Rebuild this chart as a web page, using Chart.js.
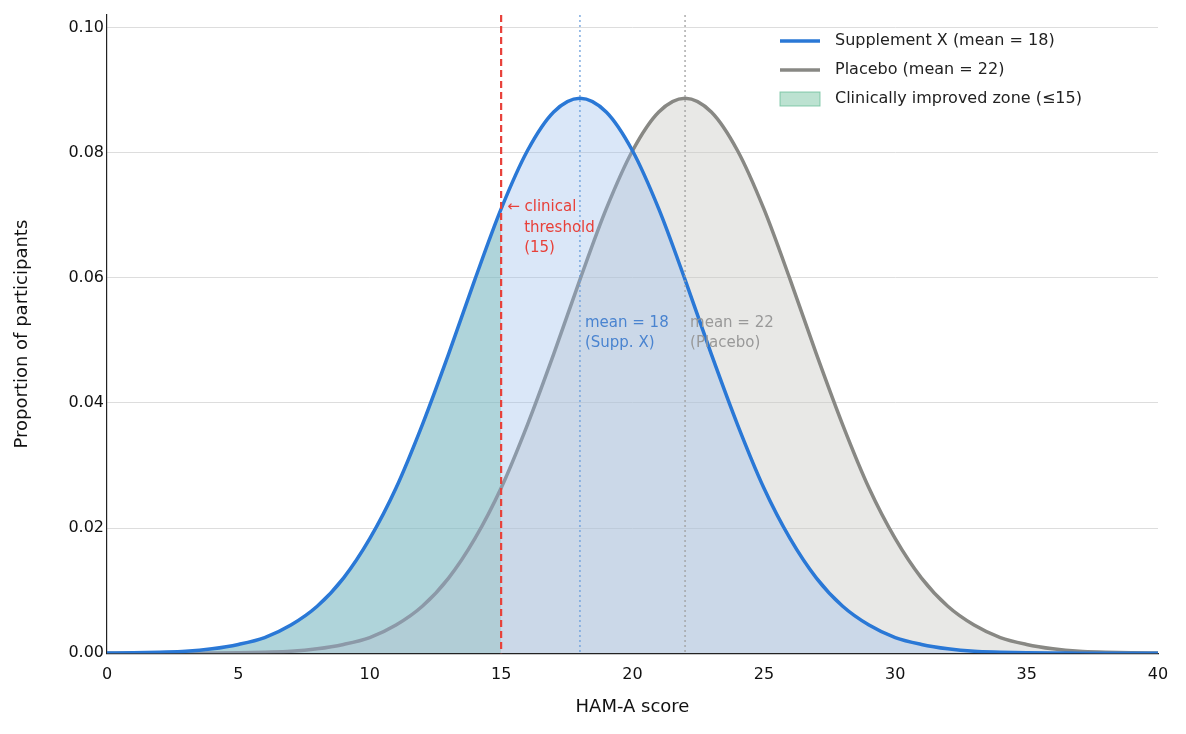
<!DOCTYPE html>
<html>
<head>
<meta charset="utf-8">
<script src="https://cdn.jsdelivr.net/npm/chart.js@4.4.1/dist/chart.umd.min.js"></script>
<style>
  body { margin: 0; background: #fff; }
  canvas { display: block; }
</style>
</head>
<body>
<canvas id="chart" width="1186" height="734"></canvas>
<script>
// HAM-A score values
const scores = [0,1,2,3,4,5,6,7,8,9,10,11,12,13,14,15,16,17,18,19,20,21,22,23,24,25,26,27,28,29,30,31,32,33,34,35,36,37,38,39,40];
const supplementX = [0.00003,0.00007,0.00016,0.0003,0.0007,0.0014,0.0025,0.0045,0.0075,0.0120,0.0183,0.0264,0.0365,0.0478,0.0597,0.0710,0.0803,0.0865,0.0887,0.0865,0.0803,0.0710,0.0597,0.0478,0.0365,0.0264,0.0183,0.0120,0.0075,0.0045,0.0025,0.0014,0.0007,0.0003,0.00016,0.00007,0.00003,0.00001,0,0,0];
const placebo = [0,0,0,0.00001,0.00003,0.00007,0.00016,0.0003,0.0007,0.0014,0.0025,0.0045,0.0075,0.0120,0.0183,0.0264,0.0365,0.0478,0.0597,0.0710,0.0803,0.0865,0.0887,0.0865,0.0803,0.0710,0.0597,0.0478,0.0365,0.0264,0.0183,0.0120,0.0075,0.0045,0.0025,0.0014,0.0007,0.0003,0.00016,0.00007,0.00003];
const threshold = 15;
const suppMean = 18;
const placeboMean = 22;
const yTicks = [0, 0.02, 0.04, 0.06, 0.08, 0.10];
const legendItems = ["Supplement X (mean = 18)", "Placebo (mean = 22)", "Clinically improved zone (\u226415)"];

const zoneFill = "rgba(95,185,145,0.42)";
const pts = arr => scores.map((x, i) => ({ x, y: arr[i] }));
const zonePts = pts(supplementX).filter(p => p.x <= threshold);

const markers = {
  id: "markers",
  afterDatasetsDraw(chart) {
    const { ctx, chartArea, scales } = chart;
    const x = scales.x, y = scales.y;
    const vline = (v, color, dash, width) => {
      ctx.save();
      ctx.strokeStyle = color;
      ctx.lineWidth = width;
      ctx.setLineDash(dash);
      ctx.beginPath();
      ctx.moveTo(x.getPixelForValue(v), chartArea.top);
      ctx.lineTo(x.getPixelForValue(v), chartArea.bottom);
      ctx.stroke();
      ctx.restore();
    };
    vline(suppMean, "#6a9edc", [2, 3], 1.3);
    vline(placeboMean, "#a0a0a0", [2, 3], 1.3);
    vline(threshold, "#e8413a", [7, 4], 2.2);

    ctx.save();
    ctx.font = "15px 'DejaVu Sans'";
    ctx.textBaseline = "middle";
    ctx.fillStyle = "#e8413a";
    const tx = x.getPixelForValue(threshold) + 6;
    ctx.fillText("\u2190 clinical", tx, y.getPixelForValue(0.0713));
    ctx.fillText("threshold", tx + 17, y.getPixelForValue(0.0680));
    ctx.fillText("(15)", tx + 17, y.getPixelForValue(0.0647));
    ctx.fillStyle = "#4a84d0";
    const sx = x.getPixelForValue(suppMean) + 5;
    ctx.fillText("mean = 18", sx, y.getPixelForValue(0.0528));
    ctx.fillText("(Supp. X)", sx, y.getPixelForValue(0.0495));
    ctx.fillStyle = "#999999";
    const px = x.getPixelForValue(placeboMean) + 5;
    ctx.fillText("mean = 22", px, y.getPixelForValue(0.0528));
    ctx.fillText("(Placebo)", px, y.getPixelForValue(0.0495));

    // legend
    const lx = 780;
    ctx.font = "16px 'DejaVu Sans'";
    ctx.fillStyle = "#222";
    ctx.setLineDash([]);
    legendItems.forEach((t, i) => {
      const ly = 41 + i * 29;
      if (i < 2) {
        ctx.strokeStyle = i === 0 ? "#2a78d6" : "#888884";
        ctx.lineWidth = 3.5;
        ctx.beginPath();
        ctx.moveTo(lx, ly);
        ctx.lineTo(lx + 40, ly);
        ctx.stroke();
      } else {
        ctx.fillStyle = zoneFill;
        ctx.fillRect(lx, ly - 7, 40, 14);
        ctx.strokeStyle = "rgba(95,185,145,0.7)";
        ctx.lineWidth = 1;
        ctx.strokeRect(lx, ly - 7, 40, 14);
      }
      ctx.fillStyle = "#222";
      ctx.fillText(t, lx + 55, ly);
    });
    ctx.restore();
  }
};

new Chart(document.getElementById("chart"), {
  type: "line",
  data: {
    datasets: [
      {
        label: "Placebo (mean = 22)",
        data: pts(placebo),
        borderColor: "#888884",
        backgroundColor: "rgba(200,200,195,0.42)",
        borderWidth: 3.5,
        fill: "origin",
        order: 1
      },
      {
        label: "Supplement X (mean = 18)",
        data: pts(supplementX),
        borderColor: "#2a78d6",
        backgroundColor: "rgba(150,185,235,0.35)",
        borderWidth: 3.5,
        fill: "origin",
        order: 0
      },
      {
        label: "Clinically improved zone (\u226415)",
        data: zonePts,
        borderWidth: 0,
        borderColor: "rgba(0,0,0,0)",
        backgroundColor: zoneFill,
        fill: "origin",
        order: 2
      }
    ]
  },
  options: {
    responsive: false,
    devicePixelRatio: 1,
    animation: false,
    layout: { padding: { left: 8, right: 28, top: 15, bottom: 12 } },
    elements: {
      point: { radius: 0 },
      line: { cubicInterpolationMode: "monotone" }
    },
    plugins: {
      tooltip: { enabled: false },
      legend: { display: false }
    },
    scales: {
      x: {
        type: "linear",
        min: 0,
        max: 40,
        ticks: { stepSize: 5, font: { size: 16, family: "'DejaVu Sans'" }, color: "#111", padding: 4 },
        grid: { display: false, drawTicks: true },
        border: { color: "#222", width: 1.2 },
        title: { display: true, text: "HAM-A score", font: { size: 18, family: "'DejaVu Sans'" }, color: "#111", padding: { top: 8 } }
      },
      y: {
        min: 0,
        max: 0.102,
        afterBuildTicks(axis) { axis.ticks = yTicks.map(v => ({ value: v })); },
        afterFit(axis) { axis.width = 99; },
        ticks: { callback: v => v.toFixed(2), font: { size: 16, family: "'DejaVu Sans'" }, color: "#111" },
        grid: { color: "#dddddd", drawTicks: false },
        border: { color: "#222", width: 1.2 },
        title: { display: true, text: "Proportion of participants", font: { size: 18, family: "'DejaVu Sans'" }, color: "#111" }
      }
    }
  },
  plugins: [markers]
});
</script>
</body>
</html>
